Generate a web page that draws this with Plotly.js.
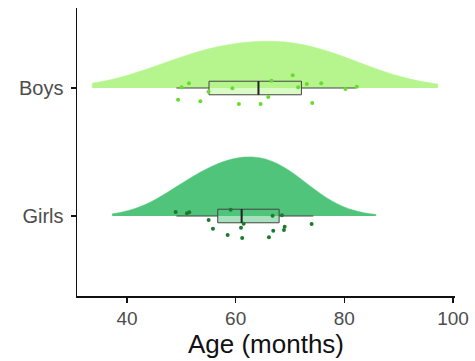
<!DOCTYPE html>
<html><head><meta charset="utf-8">
<script src="https://cdn.plot.ly/plotly-3.0.1.min.js"></script>
<style>html,body{margin:0;padding:0;background:#fff}#chart{width:475px;height:361px}</style>
</head><body><div id="chart"></div>
<script>
// Categories (positions on y axis)
const groups = ['Girls', 'Boys'];
const groupPos = [0, 1];

// Raw jittered observations (age in months) and their jittered vertical positions
const boysAge = [50.06, 51.4, 55.0, 59.4, 66.6, 70.5, 71.5, 73.1, 75.75, 80.2, 82.3, 49.4, 53.5, 60.6, 64.6, 66.0, 74.1];
const boysJitter = [1.005, 1.037, 0.971, 0.998, 1.057, 1.099, 1.005, 1.031, 1.037, 0.992, 1.01, 0.909, 0.896, 0.875, 0.875, 0.93, 0.883];
const girlsAge = [48.96, 51.04, 59.08, 55.03, 61.47, 66.8, 68.52, 73.98, 51.46, 55.82, 60.98, 66.92, 69.02, 68.89, 58.53, 66.13, 61.2];
const girlsJitter = [0.031, 0.021, 0.049, -0.031, -0.06, 0.002, 0.005, -0.0625, 0.029, -0.099, -0.091, -0.115, -0.084, -0.109, -0.148, -0.166, -0.172];

// Box summary statistics [Girls, Boys]
const boxLow = [49.1, 49.1];
const boxQ1 = [56.7, 55.1];
const boxMedian = [61.1, 64.2];
const boxQ3 = [68.0, 72.1];
const boxHigh = [74.3, 82.1];

// Density span [Girls, Boys]
const densSpan = [[37.3, 85.8], [33.6, 97.2]];
const densBw = [6.3, 10.2];

// Colors
const densColor = ['#4fc47a', '#b6f58e'];
const boxFill = ['rgba(79,196,122,0.5)', 'rgba(182,245,142,0.5)'];
const ptColor = ['#1c7a2e', '#66dd2a'];

const ages = [girlsAge, boysAge];
const jit = [girlsJitter, boysJitter];
const violinWidth = [0.92, 0.73];
const boxW = 0.106;

const traces = [];
for (let i = 0; i < 2; i++) {
  traces.push({
    type: 'violin', orientation: 'h', x: ages[i], y0: groupPos[i], name: groups[i],
    side: 'positive', points: false, box: {visible: false}, meanline: {visible: false},
    spanmode: 'manual', span: densSpan[i], bandwidth: densBw[i],
    width: violinWidth[i], scalemode: 'width',
    fillcolor: densColor[i], line: {color: densColor[i], width: 0.5},
    hoverinfo: 'skip', showlegend: false
  });
}
for (let i = 0; i < 2; i++) {
  traces.push({
    type: 'box', orientation: 'h', y: [groupPos[i]],
    q1: [boxQ1[i]], median: [boxMedian[i]], q3: [boxQ3[i]],
    lowerfence: [boxLow[i]], upperfence: [boxHigh[i]],
    width: boxW, fillcolor: boxFill[i], line: {color: '#444', width: 1},
    whiskerwidth: 0, boxpoints: false, showlegend: false, hoverinfo: 'skip'
  });
  traces.push({
    type: 'scatter', mode: 'lines',
    x: [boxMedian[i], boxMedian[i]], y: [groupPos[i] - boxW / 2, groupPos[i] + boxW / 2],
    line: {color: '#222', width: 2}, showlegend: false, hoverinfo: 'skip'
  });
}
for (let i = 0; i < 2; i++) {
  traces.push({
    type: 'scatter', mode: 'markers', x: ages[i], y: jit[i],
    marker: {color: ptColor[i], size: 4}, showlegend: false, hoverinfo: 'skip'
  });
}

const layout = {
  width: 475, height: 361,
  margin: {l: 77, r: 20, t: 8, b: 65},
  paper_bgcolor: '#fff', plot_bgcolor: '#fff',
  font: {family: 'Arial, "Liberation Sans", sans-serif'},
  showlegend: false,
  boxmode: 'overlay', violinmode: 'overlay',
  xaxis: {
    range: [30.8, 100.37], tickvals: [40, 60, 80, 100], ticktext: ['40', '60', '80', '100'],
    showgrid: false, zeroline: false, showline: true, linecolor: '#111', linewidth: 1.5,
    ticks: 'outside', ticklen: 5, tickwidth: 1.5, tickcolor: '#111',
    tickfont: {size: 19, color: '#4d4d4d'},
    title: {text: 'Age (months)', font: {size: 26, color: '#111'}, standoff: 2}
  },
  yaxis: {
    range: [-0.625, 1.625], tickvals: groupPos, ticktext: groups,
    showgrid: false, zeroline: false, showline: true, linecolor: '#111', linewidth: 1.5,
    ticks: 'outside', ticklen: 5, tickwidth: 1.5, tickcolor: '#111',
    tickfont: {size: 20, color: '#4d4d4d'}, ticklabelstandoff: 3
  }
};
Plotly.newPlot('chart', traces, layout, {displayModeBar: false, staticPlot: true});
</script></body></html>
